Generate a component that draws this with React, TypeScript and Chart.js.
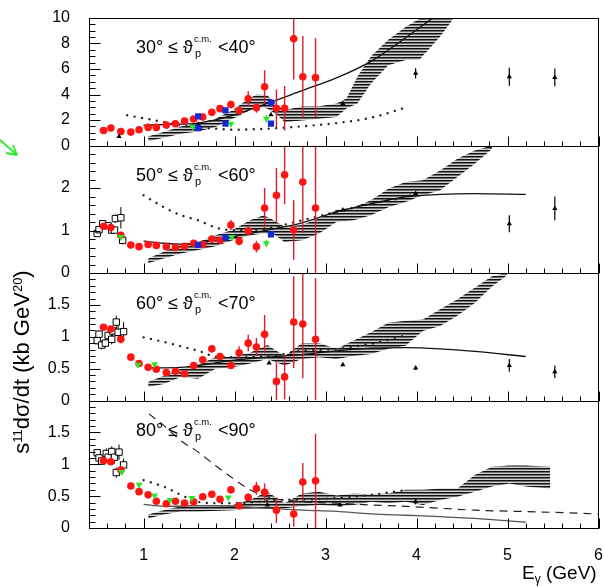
import React, { useEffect, useRef } from 'react';
import { Chart, registerables } from 'chart.js';

Chart.register(...registerables);

type PE = [number, number, number]; // E, value, error
type P = [number, number];

// ---------------- axes ----------------
const xTicks = [1, 2, 3, 4, 5, 6];
const xMin = 0.4;
const xMax = 6;

// ---------------- panel 1 : 30-40 deg ----------------
const red1: PE[] = [
  [0.56, 1.18, 0], [0.64, 1.37, 0], [0.75, 1.10, 0], [0.86, 1.05, 0], [0.95, 1.24, 0],
  [1.05, 1.42, 0], [1.14, 1.42, 0], [1.25, 1.60, 0], [1.35, 1.71, 0], [1.45, 1.92, 0],
  [1.55, 2.08, 0], [1.65, 2.24, 0], [1.75, 2.60, 0], [1.84, 2.89, 0.2], [1.96, 3.21, 0.3],
  [2.05, 2.74, 0.3], [2.15, 3.66, 0.6], [2.24, 2.97, 0.4], [2.33, 4.60, 1.3], [2.46, 2.92, 1.47],
  [2.55, 2.92, 1.74], [2.65, 8.37, 3.2], [2.75, 5.39, 3.2], [2.89, 5.32, 3.1],
];
const blue1: P[] = [[1.6, 2.29], [1.6, 1.37], [1.9, 2.76], [1.9, 1.71], [2.4, 3.37], [2.4, 1.71]];
const green1: PE[] = [[1.54, 1.45, 0], [1.96, 1.71, 0], [2.35, 2.1, 0.3]];
const tri1: PE[] = [[0.73, 0.71, 0], [1.6, 1.66, 0], [2.4, 2.42, 0], [3.19, 3.29, 0], [3.99, 5.66, 0.4], [5.02, 5.39, 0.7], [5.52, 5.34, 0.7]];
const open1: PE[] = [];
const bandE1 = [1.05, 1.22, 1.41, 1.6, 1.79, 1.98, 2.13, 2.24, 2.36, 2.47, 2.55, 2.74, 2.93, 3.12, 3.23, 3.35, 3.5, 3.69, 3.88, 4.03, 4.26, 4.41];
const bandHi1 = [0.7, 1.05, 1.5, 1.76, 2.1, 2.76, 3.55, 4.0, 3.95, 3.16, 2.76, 3.08, 3.08, 3.29, 3.68, 5.4, 7.0, 8.3, 9.3, 9.95, 10, 10];
const bandLo1 = [0.34, 0.6, 0.92, 1.1, 1.45, 2.1, 2.63, 3.03, 2.9, 2.37, 1.84, 1.97, 2.1, 2.24, 2.9, 3.3, 4.87, 6.3, 6.7, 6.7, 8.55, 10];
const solid1: P[] = [[1.0, 1.58], [1.3, 1.66], [1.6, 1.76], [1.98, 2.37], [2.4, 3.4], [2.74, 4.3], [3.12, 5.3], [3.5, 6.6], [3.85, 8.3], [4.18, 10]];
const dotted1: P[] = [[0.82, 2.37], [1.03, 2.1], [1.22, 1.84], [1.41, 1.58], [1.6, 1.39], [1.79, 1.32], [1.98, 1.24], [2.36, 1.32], [2.74, 1.5], [3.12, 1.76], [3.5, 2.18], [3.88, 2.97]];
const dashed1: P[] = [];

// ---------------- panel 2 : 50-60 deg ----------------
const red2: PE[] = [
  [0.56, 1.10, 0], [0.64, 1.07, 0], [0.75, 0.89, 0], [0.86, 0.66, 0], [0.95, 0.62, 0],
  [1.05, 0.67, 0], [1.14, 0.65, 0], [1.25, 0.62, 0], [1.35, 0.60, 0], [1.45, 0.63, 0],
  [1.55, 0.70, 0], [1.65, 0.67, 0], [1.75, 0.80, 0], [1.84, 0.77, 0], [1.96, 1.13, 0.12],
  [2.05, 0.75, 0.1], [2.15, 0.99, 0.1], [2.24, 0.62, 0.14], [2.33, 1.53, 0.47], [2.46, 1.83, 0.64],
  [2.55, 2.31, 0.69], [2.65, 1.01, 0.7], [2.75, 2.14, 1.2], [2.89, 1.53, 1.53],
];
const blue2: P[] = [[1.6, 0.66], [1.9, 0.83], [2.4, 0.91]];
const green2: PE[] = [[0.75, 0.85, 0], [1.97, 0.85, 0], [2.35, 0.7, 0.08]];
const tri2: PE[] = [[3.19, 1.48, 0], [3.99, 1.87, 0], [5.02, 1.16, 0.2], [5.52, 1.52, 0.28]];
const open2: PE[] = [[0.49, 0.93, 0.06], [0.51, 1.02, 0.06], [0.55, 1.16, 0.08], [0.61, 1.11, 0.08], [0.65, 1.01, 0.08], [0.68, 1.01, 0.08], [0.69, 1.28, 0.1], [0.75, 1.30, 0.25], [0.77, 0.77, 0.1]];
const bandE2 = [1.05, 1.22, 1.41, 1.6, 1.79, 1.98, 2.17, 2.32, 2.43, 2.55, 2.74, 2.93, 3.12, 3.31, 3.5, 3.69, 3.88, 4.07, 4.26, 4.45, 4.64, 4.83];
const bandHi2 = [0.34, 0.5, 0.67, 0.73, 0.89, 1.01, 1.24, 1.36, 1.24, 1.09, 1.13, 1.28, 1.48, 1.55, 1.71, 1.98, 2.14, 2.18, 2.41, 2.69, 2.88, 3.0];
const bandLo2 = [0.23, 0.34, 0.46, 0.54, 0.63, 0.77, 0.89, 0.93, 0.91, 0.73, 0.77, 0.93, 1.2, 1.24, 1.36, 1.55, 1.67, 1.83, 1.95, 2.26, 2.57, 2.92];
const solid2: P[] = [[1.0, 0.75], [1.22, 0.7], [1.41, 0.68], [1.6, 0.7], [1.98, 0.85], [2.36, 1.01], [2.74, 1.18], [3.12, 1.44], [3.5, 1.63], [3.88, 1.79], [4.26, 1.85], [4.64, 1.87], [5.2, 1.85]];
const dotted2: P[] = [[1.0, 1.83], [1.22, 1.55], [1.41, 1.36], [1.6, 1.24], [1.79, 1.07], [1.98, 1.01], [2.17, 1.01], [2.36, 1.05], [2.74, 1.24], [3.12, 1.44], [3.5, 1.63], [3.88, 1.79], [4.0, 1.87]];
const dashed2: P[] = [];

// ---------------- panel 3 : 60-70 deg ----------------
const red3: PE[] = [
  [0.56, 1.15, 0], [0.64, 1.12, 0], [0.75, 0.96, 0.06], [0.86, 0.68, 0], [0.95, 0.58, 0],
  [1.05, 0.52, 0], [1.14, 0.49, 0], [1.25, 0.44, 0], [1.35, 0.46, 0], [1.45, 0.42, 0],
  [1.55, 0.55, 0], [1.65, 0.64, 0], [1.75, 0.81, 0.05], [1.84, 0.69, 0.05], [1.96, 0.55, 0.05],
  [2.05, 0.75, 0.1], [2.15, 0.9, 0.13], [2.24, 0.84, 0.14], [2.33, 1.04, 0.3], [2.46, 0.3, 0.3],
  [2.55, 0.37, 0.35], [2.65, 1.23, 0.72], [2.75, 1.2, 0.85], [2.89, 0.96, 0.96],
];
const blue3: P[] = [];
const green3: PE[] = [[0.94, 0.56, 0], [1.12, 0.57, 0]];
const tri3: PE[] = [[2.38, 0.59, 0], [3.19, 0.56, 0], [3.99, 0.51, 0.03], [5.02, 0.55, 0.1], [5.52, 0.45, 0.1]];
const open3: PE[] = [[0.49, 0.94, 0.06], [0.51, 1.04, 0.06], [0.54, 0.87, 0.07], [0.58, 0.9, 0.07], [0.61, 1.02, 0.08], [0.65, 0.96, 0.08], [0.66, 1.09, 0.08], [0.70, 1.23, 0.1], [0.72, 1.07, 0.15], [0.78, 1.08, 0.15]];
const bandE3 = [1.05, 1.22, 1.41, 1.6, 1.79, 1.98, 2.17, 2.36, 2.55, 2.74, 2.93, 3.12, 3.31, 3.5, 3.69, 3.88, 4.07, 4.26, 4.45, 4.64, 4.83, 5.0];
const bandHi3 = [0.29, 0.39, 0.5, 0.56, 0.68, 0.69, 0.75, 0.87, 0.7, 0.9, 0.9, 0.81, 0.94, 1.07, 1.22, 1.25, 1.27, 1.43, 1.59, 1.77, 1.95, 2.0];
const bandLo3 = [0.21, 0.26, 0.37, 0.34, 0.5, 0.52, 0.58, 0.65, 0.55, 0.65, 0.68, 0.65, 0.7, 0.73, 0.81, 0.86, 1.09, 1.17, 1.33, 1.53, 1.79, 1.97];
const solid3: P[] = [[1.05, 0.51], [1.41, 0.52], [1.6, 0.55], [1.98, 0.63], [2.36, 0.68], [2.74, 0.72], [3.12, 0.78], [3.5, 0.82], [3.88, 0.83], [4.26, 0.81], [4.64, 0.77], [5.2, 0.69]];
const dotted3: P[] = [[1.0, 0.99], [1.22, 0.92], [1.41, 0.85], [1.6, 0.78], [1.79, 0.69], [1.98, 0.68], [2.36, 0.69], [2.74, 0.78], [3.12, 0.81], [3.5, 0.89], [3.88, 1.02]];
const dashed3: P[] = [];

// ---------------- panel 4 : 80-90 deg ----------------
const red4: PE[] = [
  [0.56, 1.06, 0], [0.64, 1.04, 0], [0.75, 0.91, 0], [0.86, 0.66, 0], [0.95, 0.57, 0],
  [1.05, 0.52, 0], [1.14, 0.42, 0], [1.25, 0.38, 0], [1.35, 0.42, 0], [1.45, 0.39, 0],
  [1.55, 0.41, 0], [1.65, 0.49, 0], [1.75, 0.53, 0], [1.84, 0.45, 0], [1.96, 0.6, 0.06],
  [2.05, 0.35, 0.05], [2.15, 0.48, 0.06], [2.24, 0.62, 0.1], [2.33, 0.56, 0.14], [2.46, 0.28, 0.2],
  [2.65, 0.22, 0.2], [2.75, 0.72, 0.3], [2.89, 0.74, 0.74],
];
const blue4: P[] = [];
const green4: PE[] = [[0.76, 0.88, 0], [0.95, 0.68, 0], [1.12, 0.51, 0], [1.29, 0.44, 0], [1.53, 0.47, 0], [1.93, 0.48, 0]];
const tri4: PE[] = [[2.36, 0.36, 0], [3.16, 0.36, 0], [3.99, 0.41, 0.04]];
const open4: PE[] = [[0.49, 1.18, 0.05], [0.51, 1.1, 0.05], [0.54, 1.05, 0.06], [0.59, 1.17, 0.08], [0.61, 1.11, 0.08], [0.65, 1.2, 0.08], [0.68, 1.11, 0.1], [0.70, 0.87, 0.08], [0.73, 1.19, 0.12], [0.78, 0.99, 0.1]];
const bandE4 = [1.05, 1.22, 1.41, 1.6, 1.98, 2.17, 2.36, 2.55, 2.74, 2.93, 3.12, 3.31, 3.5, 3.69, 3.88, 4.07, 4.26, 4.45, 4.64, 4.83, 5.02, 5.2, 5.47];
const bandHi4 = [0.21, 0.28, 0.34, 0.36, 0.36, 0.44, 0.57, 0.39, 0.54, 0.57, 0.51, 0.54, 0.53, 0.54, 0.6, 0.6, 0.62, 0.62, 0.83, 0.96, 0.98, 0.98, 0.96];
const bandLo4 = [0.15, 0.21, 0.26, 0.26, 0.28, 0.3, 0.31, 0.31, 0.34, 0.36, 0.35, 0.36, 0.41, 0.39, 0.41, 0.36, 0.44, 0.49, 0.57, 0.65, 0.7, 0.65, 0.62];
const solid4: P[] = [[1.0, 0.37], [1.22, 0.34], [1.6, 0.35], [1.98, 0.34], [2.36, 0.31], [2.74, 0.28], [3.12, 0.26], [3.5, 0.22], [3.88, 0.2], [4.26, 0.18], [4.64, 0.15], [5.2, 0.09]];
const dotted4: P[] = [[1.0, 0.75], [1.22, 0.65], [1.41, 0.52], [1.6, 0.41], [1.8, 0.39], [2.0, 0.39], [2.5, 0.44], [3.0, 0.46], [3.5, 0.52], [3.9, 0.6]];
const dashed4: P[] = [[1.06, 1.79], [1.22, 1.61], [1.41, 1.37], [1.6, 1.19], [1.79, 0.98], [1.98, 0.78], [2.17, 0.6], [2.36, 0.49], [2.74, 0.41], [3.12, 0.39], [3.5, 0.36], [3.88, 0.34], [4.64, 0.28], [5.4, 0.25], [6.0, 0.22]];

// ---------------- panel axis setup ----------------
const panelIds = ['y1', 'y2', 'y3', 'y4'];
const panelMax = [10, 3, 2, 2];
const panelMajor = [2, 1, 0.5, 0.5];
const panelMinor = [0.5, 0.2, 0.1, 0.1];
const angleLo = [30, 50, 60, 80];
const angleHi = [40, 60, 70, 90];

const panels = [
  { red: red1, blue: blue1, green: green1, tri: tri1, open: open1, bE: bandE1, bH: bandHi1, bL: bandLo1, solid: solid1, dotted: dotted1, dashed: dashed1 },
  { red: red2, blue: blue2, green: green2, tri: tri2, open: open2, bE: bandE2, bH: bandHi2, bL: bandLo2, solid: solid2, dotted: dotted2, dashed: dashed2 },
  { red: red3, blue: blue3, green: green3, tri: tri3, open: open3, bE: bandE3, bH: bandHi3, bL: bandLo3, solid: solid3, dotted: dotted3, dashed: dashed3 },
  { red: red4, blue: blue4, green: green4, tri: tri4, open: open4, bE: bandE4, bH: bandHi4, bL: bandLo4, solid: solid4, dotted: dotted4, dashed: dashed4 },
];

const FONT = '"Liberation Sans", "DejaVu Sans", Arial, sans-serif';

function errBars(pts: PE[], max: number) {
  const out: any[] = [];
  for (const [e, v, err] of pts) {
    if (err > 0) {
      out.push({ x: e, y: Math.max(0, v - err) }, { x: e, y: Math.min(max, v + err) }, { x: e, y: null });
    }
  }
  return out;
}

function buildDatasets(pattern: CanvasPattern | string) {
  const ds: any[] = [];
  panels.forEach((p, i) => {
    const yAxisID = panelIds[i];
    const max = panelMax[i];
    const common = { yAxisID };
    // band (upper filled to lower)
    ds.push({ ...common, type: 'line', data: p.bE.map((e, k) => ({ x: e, y: p.bH[k] })), borderWidth: 0, borderColor: 'rgba(0,0,0,0)', pointRadius: 0, fill: '+1', backgroundColor: pattern, order: 6 });
    ds.push({ ...common, type: 'line', data: p.bE.map((e, k) => ({ x: e, y: p.bL[k] })), borderWidth: 0, borderColor: 'rgba(0,0,0,0)', pointRadius: 0, fill: false, order: 6 });
    // theory curves
    ds.push({ ...common, type: 'line', data: p.solid.map(([x, y]) => ({ x, y })), borderColor: i === 3 ? '#555' : '#111', borderWidth: 1.3, pointRadius: 0, fill: false, cubicInterpolationMode: 'monotone', order: 5 });
    ds.push({ ...common, type: 'line', data: p.dotted.map(([x, y]) => ({ x, y })), borderColor: '#222', borderWidth: 2.4, borderDash: [0.01, 7.5], borderCapStyle: 'round', pointRadius: 0, fill: false, cubicInterpolationMode: 'monotone', order: 5 });
    if (p.dashed.length) {
      ds.push({ ...common, type: 'line', data: p.dashed.map(([x, y]) => ({ x, y })), borderColor: '#222', borderWidth: 1.2, borderDash: [8, 6], pointRadius: 0, fill: false, cubicInterpolationMode: 'monotone', order: 5 });
    }
    // error bars
    ds.push({ ...common, type: 'line', data: errBars(p.red, max), borderColor: 'rgb(225,25,45)', borderWidth: 1.4, pointRadius: 0, fill: false, spanGaps: false, order: 3 });
    ds.push({ ...common, type: 'line', data: errBars(p.tri, max), borderColor: '#000', borderWidth: 1.2, pointRadius: 0, fill: false, spanGaps: false, order: 3 });
    ds.push({ ...common, type: 'line', data: errBars(p.open, max), borderColor: '#000', borderWidth: 1, pointRadius: 0, fill: false, spanGaps: false, order: 3 });
    ds.push({ ...common, type: 'line', data: errBars(p.green, max), borderColor: '#22dd22', borderWidth: 1.2, pointRadius: 0, fill: false, spanGaps: false, order: 3 });
    // markers
    ds.push({ ...common, type: 'line', showLine: false, data: p.open.map(([x, y]) => ({ x, y })), pointStyle: 'rect', pointRadius: 4.5, backgroundColor: '#fff', borderColor: '#000', borderWidth: 1, order: 2 });
    ds.push({ ...common, type: 'line', showLine: false, data: p.tri.map(([x, y]) => ({ x, y })), pointStyle: 'triangle', pointRadius: 3, backgroundColor: '#000', borderColor: '#000', borderWidth: 0, order: 1 });
    ds.push({ ...common, type: 'line', showLine: false, data: p.red.map(([x, y]) => ({ x, y })), pointStyle: 'circle', pointRadius: 3.8, backgroundColor: 'rgb(255,20,20)', borderWidth: 0, order: 1 });
    ds.push({ ...common, type: 'line', showLine: false, data: p.blue.map(([x, y]) => ({ x, y })), pointStyle: 'rect', pointRadius: 4.4, backgroundColor: 'rgb(20,40,215)', borderWidth: 0, order: 0 });
    ds.push({ ...common, type: 'line', showLine: false, data: p.green.map(([x, y]) => ({ x, y })), pointStyle: 'triangle', rotation: 180, pointRadius: 4, backgroundColor: 'rgb(40,230,40)', borderWidth: 0, order: 0 });
  });
  return ds;
}

const framePlugin = {
  id: 'rootFrames',
  afterDatasetsDraw(chart: any) {
    const { ctx, chartArea } = chart;
    const xs = chart.scales.x;
    ctx.save();
    ctx.strokeStyle = '#000';
    ctx.lineWidth = 1;
    const left = Math.round(chartArea.left) + 0.5;
    const right = Math.round(chartArea.right) - 0.5;
    panelIds.forEach((id, i) => {
      const s = chart.scales[id];
      const top = Math.round(s.top) + 0.5;
      const bottom = Math.round(s.bottom) + 0.5;
      ctx.strokeRect(left, top, right - left, bottom - top);
      const n = Math.round(panelMax[i] / panelMinor[i]);
      for (let k = 0; k <= n; k++) {
        const v = k * panelMinor[i];
        const r = v / panelMajor[i];
        const major = Math.abs(r - Math.round(r)) < 1e-6;
        const y = Math.round(s.getPixelForValue(v)) + 0.5;
        ctx.beginPath();
        ctx.moveTo(left, y);
        ctx.lineTo(left + (major ? 11 : 6), y);
        ctx.stroke();
      }
      for (let k = 0; k <= 28; k++) {
        const e = xMin + k * 0.2;
        const major = Math.abs(e - Math.round(e)) < 1e-6;
        const x = Math.round(xs.getPixelForValue(e)) + 0.5;
        ctx.beginPath();
        ctx.moveTo(x, bottom);
        ctx.lineTo(x, bottom - (major ? 10 : 5));
        ctx.stroke();
      }
    });
    ctx.restore();
  },
};

function ThetaLabel({ lo, hi, top }: { lo: number; hi: number; top: number }) {
  return (
    <div style={{ position: 'absolute', left: 136, top, font: `18px ${FONT}`, whiteSpace: 'nowrap', color: '#000', lineHeight: '20px' }}>
      {lo}° ≤ ϑ
      <span style={{ display: 'inline-block', position: 'relative', width: 25, height: 10 }}>
        <span style={{ position: 'absolute', left: 1, top: -9, fontSize: 9.5, lineHeight: '10px' }}>c.m.</span>
        <span style={{ position: 'absolute', left: 2, top: 5, fontSize: 11, lineHeight: '10px' }}>p</span>
      </span>
      &lt;{hi}°
    </div>
  );
}

export default function App() {
  const ref = useRef<HTMLCanvasElement>(null);

  useEffect(() => {
    const canvas = ref.current!;
    const ctx = canvas.getContext('2d')!;
    const pc = document.createElement('canvas');
    pc.width = 4;
    pc.height = 3;
    const pctx = pc.getContext('2d')!;
    pctx.fillStyle = '#d0d0d0';
    pctx.fillRect(0, 0, 4, 3);
    pctx.fillStyle = '#111';
    pctx.fillRect(0, 0, 4, 1);
    pctx.fillStyle = '#707070';
    pctx.fillRect(0, 1, 4, 1);
    const pattern = ctx.createPattern(pc, 'repeat') || '#888';

    // stacked panels: Chart.js stacks the last-declared scale at the top
    const yScales: any = {};
    [3, 2, 1, 0].forEach((i) => {
      const id = panelIds[i];
      yScales[id] = {
        type: 'linear',
        position: 'left',
        stack: 'panels',
        stackWeight: 1,
        min: 0,
        max: panelMax[i],
        grid: { display: false },
        border: { display: false },
        ticks: {
          font: { family: FONT, size: 16 },
          color: '#000',
          padding: 11,
          autoSkip: false,
          callback: (v: number) => (i > 0 && Math.abs(v - panelMax[i]) < 1e-9 ? '' : String(v)),
        },
        afterBuildTicks: (s: any) => {
          const t: any[] = [];
          for (let v = 0; v <= panelMax[i] + 1e-9; v += panelMajor[i]) t.push({ value: Math.round(v * 100) / 100 });
          s.ticks = t;
        },
        afterFit: (s: any) => {
          s.width = 89;
          s.paddingTop = 0;
          s.paddingBottom = 0;
        },
      };
    });

    const chart = new Chart(canvas, {
      type: 'line',
      data: { datasets: buildDatasets(pattern) },
      options: {
        animation: false,
        responsive: false,
        events: [],
        layout: { padding: { top: 18, right: 5, left: 0, bottom: 0 } },
        plugins: { legend: { display: false }, tooltip: { enabled: false } },
        scales: {
          x: {
            type: 'linear',
            position: 'bottom',
            min: xMin,
            max: xMax,
            grid: { display: false },
            border: { display: false },
            ticks: { font: { family: FONT, size: 16 }, color: '#000', padding: 10, autoSkip: false, maxRotation: 0 },
            afterBuildTicks: (s: any) => {
              s.ticks = xTicks.map((value) => ({ value }));
            },
            afterFit: (s: any) => {
              s.height = 59;
              s.paddingLeft = 0;
              s.paddingRight = 0;
            },
          },
          ...yScales,
        },
      } as any,
      plugins: [framePlugin],
    });
    return () => chart.destroy();
  }, []);

  return (
    <div style={{ position: 'absolute', left: 0, top: 0, width: 604, height: 587, background: '#fff', overflow: 'hidden' }}>
      <canvas ref={ref} width={604} height={587} style={{ position: 'absolute', left: 0, top: 0 }} />
      {panelIds.map((id, i) => (
        <ThetaLabel key={id} lo={angleLo[i]} hi={angleHi[i]} top={[37, 165, 293, 420][i]} />
      ))}
      <div
        style={{
          position: 'absolute',
          left: 22,
          top: 362,
          transform: 'translate(-50%, -50%) rotate(-90deg)',
          font: `22px ${FONT}`,
          whiteSpace: 'nowrap',
          color: '#000',
        }}
      >
        s<span style={{ fontSize: 13, verticalAlign: '0.55em' }}>11</span>dσ/dt (kb GeV<span style={{ fontSize: 13, verticalAlign: '0.55em' }}>20</span>)
      </div>
      <div style={{ position: 'absolute', left: 522, top: 562, font: `19px ${FONT}`, whiteSpace: 'nowrap', color: '#000' }}>
        E<span style={{ fontSize: 12, verticalAlign: '-0.3em' }}>γ</span> (GeV)
      </div>
      <svg width={22} height={22} style={{ position: 'absolute', left: 0, top: 138 }}>
        <path d="M0 2 L17 17 M17 17 L6 15 M17 17 L13 7" stroke="#22ee22" strokeWidth={1.8} fill="none" />
      </svg>
    </div>
  );
}
